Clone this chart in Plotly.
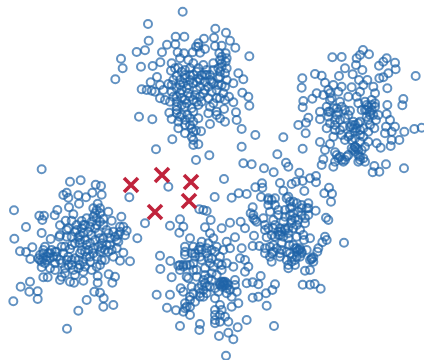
import plotly.graph_objects as go

# Readings per cluster, in units of 1/3 pixel from each cluster's corner
left_x = [125,210,242,287,303,190,200,205,235,258,277,305,
          237,293,207,172,42,118,132,127,164,220,280,285,
          325,364,78,125,180,197,215,245,260,290,310,335,
          43,152,178,205,230,250,270,290,320,370,380,360,
          375,345,412,60,78,97,91,135,120,140,125,150,
          165,185,210,240,265,295,320,350,370,360,390,340,
          315,290,270,240,225,200,195,165,150,125,130,143,
          180,185,210,222,225,250,293,293,326,345,337,90,
          62,88,113,113,40,283,300,311,260,310,340,235,
          201,215,235,255,275,295,310,330,350,225,245,265,
          285,305,325,300,280,260,240,215,235,255,275,290,
          130,145,155,115,135,170,190,205,185,195,388,
          230,250,300,285,340,355,240,225,270,300,315,335,
          305,245,150,140,130,160,215,235,250,300,290,360,
          200,180,120,165,
          200,215,255,240,275,310,325,355,330,305,280,260,
          195,205,180,255,270,300,250,220,280,300,130,170]
left_y = [58,95,91,104,108,135,128,143,136,142,128,134,
          161,161,172,180,181,197,197,210,196,193,175,190,
          185,200,231,249,226,212,212,213,205,205,207,212,
          266,267,260,235,240,250,230,225,240,230,242,245,
          256,260,265,304,306,292,327,290,315,320,335,325,
          340,290,297,280,300,290,285,295,308,332,334,320,
          330,320,335,345,325,330,355,360,355,352,382,382,
          390,380,395,398,375,392,378,398,373,380,398,395,
          410,425,424,447,454,425,428,445,450,470,465,482,
          536,260,262,270,255,250,265,265,270,245,235,245,
          270,280,305,305,310,320,310,330,330,350,360,350,
          310,310,300,325,340,305,310,345,340,370,142,
          225,225,215,235,245,255,270,280,280,265,300,300,
          330,300,310,330,325,320,345,355,335,190,180,230,
          240,255,330,305,
          260,285,225,255,215,225,250,275,285,295,295,285,
          290,320,330,305,320,345,365,360,200,175,300,320]

top_x = [218,114,316,348,116,197,223,312,360,282,171,196,
         265,258,315,335,376,285,80,105,156,203,222,248,
         270,328,347,418,33,38,93,128,151,185,210,235,
         250,330,347,280,310,335,350,16,183,205,225,265,
         290,330,345,385,400,141,122,95,110,125,150,175,
         200,225,250,275,300,325,350,370,160,135,150,165,
         185,210,235,260,285,310,335,210,235,260,285,305,
         340,397,415,357,418,370,345,320,295,270,250,225,
         200,180,178,200,225,245,265,300,320,342,378,380,
         345,330,320,87,127,185,210,232,250,300,205,225,
         245,258,273,225,245,395,436,187,250,250,265,138,
         395,298,258,400,425,462,
         210,215,230,250,270,285,300,295,280,320,225,240,
         260,310,335,335,325,200,215,240,260,290,190,240,
         250,225,205,200,215,350,265,
         195,215,240,265,200,230,190,255,275,310,330,345,
         305,325,240,220,185,270,250,215,200,240,265,295,330]
top_y = [35,72,86,98,122,110,110,113,122,116,134,133,
         130,140,138,137,143,147,156,151,157,157,160,157,
         158,160,160,169,176,205,200,198,187,190,175,180,
         190,180,185,195,190,200,205,238,212,203,210,205,
         210,215,220,220,238,231,247,268,270,272,255,252,
         228,235,225,225,225,235,240,250,270,275,295,300,
         275,255,255,245,245,250,255,280,280,270,270,275,
         280,278,290,290,317,307,300,295,295,290,300,300,
         305,305,338,330,320,325,315,320,335,327,337,360,
         365,355,345,350,358,357,350,345,365,372,385,375,
         385,392,394,400,410,387,405,418,420,435,433,448,
         440,466,480,490,493,505,
         240,270,265,250,240,225,240,260,280,270,225,205,
         215,210,170,190,205,265,295,290,305,225,240,375,
         395,360,365,320,315,175,140,
         205,215,225,235,290,310,290,285,305,310,295,260,
         245,255,240,250,255,260,335,345,340,355,355,340,230]

right_x = [249,157,185,240,230,267,228,320,345,297,310,195,
           247,347,325,105,125,177,218,407,67,135,237,262,
           298,310,65,160,185,215,250,280,322,110,130,145,
           175,240,285,97,70,68,155,180,205,230,275,322,
           370,367,120,140,160,185,210,235,260,285,270,255,
           120,85,78,55,145,170,195,280,260,320,330,288,
           220,240,210,230,250,270,140,165,190,77,10,345,
           318,373,403,425,315,335,160,185,210,240,265,283,
           120,150,195,215,240,265,290,302,335,358,332,68,
           225,215,235,135,165,225,255,130,180,200,165,190,
           240,255,235,125,160,318,372,283,278,298,
           225,235,220,240,225,215,265,275,260,270,255,285,
           225,230,220,150,150,175,165,150,185,175,195,240,250,
           150,195,205,180,165,180,205,250,265,245,275,225,
           170,145,295,245,235,205,170]
right_y = [30,52,51,45,55,43,75,55,68,77,65,85,
           90,88,100,102,107,108,103,108,115,128,120,120,
           115,112,143,135,140,142,135,140,145,160,165,150,
           155,155,160,176,183,202,175,185,170,170,180,195,
           177,196,215,200,205,200,212,190,195,200,215,210,
           238,233,248,255,230,225,235,225,230,222,240,240,
           245,245,260,265,265,255,265,270,260,280,292,260,
           260,275,267,263,280,275,290,285,285,285,275,265,
           306,312,300,300,305,305,310,323,300,300,318,326,
           320,325,330,330,337,335,320,358,350,350,365,365,
           350,365,365,375,380,373,385,378,397,395,
           255,250,265,270,275,255,200,210,210,225,185,190,
           320,325,330,180,215,215,240,250,360,355,360,360,355,
           160,210,225,240,255,270,290,290,240,210,195,295,
           205,215,225,330,345,345,345]

bottom_x = [252,85,224,275,296,320,178,190,200,
            15,90,120,130,118,212,270,302,315,195,245,210,
            285,150,135,185,220,260,305,60,91,61,115,130,
            135,155,175,200,230,250,270,300,315,325,160,185,
            215,240,260,140,95,170,195,220,245,280,315,145,
            205,230,250,265,285,320,50,90,122,130,155,185,
            210,240,255,290,200,180,225,275,295,81,108,135,
            150,165,190,240,275,130,150,225,245,225,240,265,
            120,180,178,320,293,237,265,280,258,250,245,260,
            250,255,245,240,260,200,190,180,195,185,165,180,
            200,210,160,140,150,135,225,240,255,225,130,120,195,215,
            160,180,205,225,245,205,165,150,170,190,215,225,
            235,175,160,150,215,235,135,120,140,260,270,285]
bottom_y = [87,110,141,143,130,132,178,180,183,
            220,227,208,230,248,210,218,215,235,232,235,250,
            262,265,290,275,265,275,295,317,333,357,347,345,
            315,310,300,295,290,300,295,325,330,350,340,330,
            325,320,340,380,382,360,355,350,360,350,365,385,
            385,375,395,405,390,400,434,434,415,425,410,405,
            410,405,405,425,430,440,445,440,460,473,481,460,
            470,455,440,465,470,485,495,480,480,510,515,515,
            528,522,540,510,532,558,548,568,617,400,410,415,
            405,395,395,400,400,410,420,430,400,300,310,320,
            310,340,360,470,450,475,495,495,500,520,350,345,375,370,
            290,290,280,305,345,325,320,345,380,390,390,415,
            425,415,430,440,300,340,305,360,345,430,420,405]

mid_x = [142,168,175,131,208,258,240,258,218,198,
         185,150,96,97,76,160,223,297,283,306,303,93,
         115,135,175,115,135,190,215,235,68,120,145,165,
         185,205,235,257,62,70,80,100,105,130,180,205,
         225,288,295,160,185,130,150,165,190,210,125,150,
         175,220,110,72,68,240,222,285,290,277,342,88,
         105,130,155,178,200,210,265,262,105,125,150,180,
         215,125,150,170,195,245,250,175,195,240,225,92,
         85,68,135,127,108,218,240,254,272,85,68,110,132,
         205,200,210,215,245,250,240,165,155,175,185,190,
         180,195,215,230,175,185,125,115,70,75,135,145,130,120,200,195,
         145,165,200,225,145,175,155,170,190,185,210,230,
         140,120,180,200,170,215,235,105,115,135,160,200]
mid_y = [13,38,50,67,68,78,85,97,93,95,
         102,99,100,113,112,122,123,113,130,131,155,141,
         145,145,140,165,165,155,165,160,172,185,180,180,
         170,185,175,182,190,205,215,205,225,210,195,210,
         205,203,210,215,220,235,235,240,235,240,255,255,
         250,255,262,257,288,265,270,260,270,277,278,288,
         295,285,280,285,295,300,295,305,310,310,310,310,
         310,335,320,330,330,325,335,355,345,360,362,378,
         403,397,403,420,430,404,404,402,416,440,443,467,528,
         300,305,295,305,328,322,330,235,245,235,210,190,
         175,205,175,175,345,335,150,150,195,210,260,245,305,320,320,295,
         195,200,225,220,255,265,300,305,285,320,320,300,
         295,290,155,160,145,195,195,240,235,225,260,260]

# Corner of each cluster in chart units
left_origin = (0, 150)
top_origin = (110, 0)
right_origin = (280, 40)
bottom_origin = (140, 150)
mid_origin = (230, 150)

clusters = [(left_x, left_y, left_origin), (top_x, top_y, top_origin),
            (right_x, right_y, right_origin), (bottom_x, bottom_y, bottom_origin),
            (mid_x, mid_y, mid_origin)]

point_x, point_y = [], []
for xs, ys, (ox, oy) in clusters:
    assert len(xs) == len(ys), (len(xs), len(ys))
    point_x += [ox + v / 3 for v in xs]
    point_y += [oy + v / 3 for v in ys]

centroid_x = [131, 162, 191, 189, 155]
centroid_y = [185, 175, 182, 201, 212]

fig = go.Figure()
fig.add_trace(go.Scatter(
    x=point_x, y=point_y, mode="markers",
    marker=dict(symbol="circle-open", size=8, color="rgba(31,100,168,0.7)",
                line=dict(width=2, color="rgba(31,100,168,0.7)")),
))
fig.add_trace(go.Scatter(
    x=centroid_x, y=centroid_y, mode="markers",
    marker=dict(symbol="x-thin", size=14, color="#c0233c",
                line=dict(width=3.6, color="#c0233c")),
))
fig.update_layout(
    width=424, height=360, margin=dict(l=0, r=0, t=0, b=0),
    paper_bgcolor="white", plot_bgcolor="white", showlegend=False,
    xaxis=dict(visible=False, range=[0, 424]),
    yaxis=dict(visible=False, range=[360, 0]),
)
fig.write_html("out.html", config=dict(displayModeBar=False),
               post_script="document.body.style.margin='0';document.body.style.overflow='hidden';")
